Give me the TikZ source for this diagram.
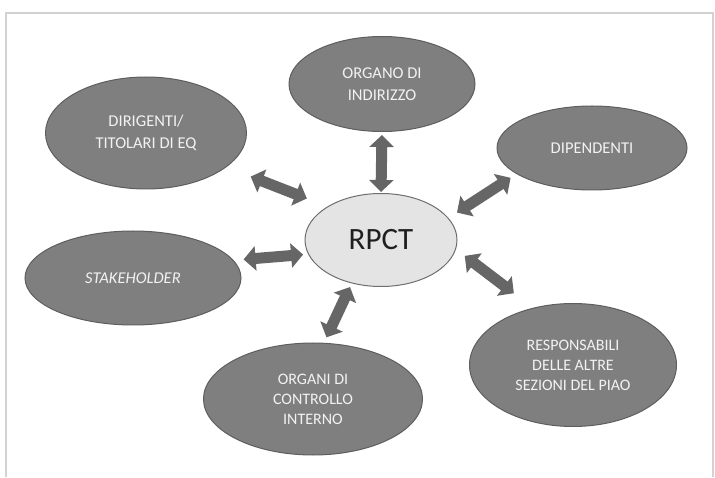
\documentclass[tikz,border=0pt]{standalone}
\usepackage{fontspec}
\setmainfont{Carlito}
\usetikzlibrary{shapes.geometric, arrows.meta}

\definecolor{bubblefill}{HTML}{7F7F7F}
\definecolor{bubbleline}{HTML}{5E5E5E}
\definecolor{bubbletext}{HTML}{F2F2F2}
\definecolor{corefill}{HTML}{E4E4E4}
\definecolor{coreline}{HTML}{6E6E6E}
\definecolor{linkgray}{HTML}{666666}

\begin{document}
\begin{tikzpicture}[x = 1pt, y = 1pt,
	bubble/.style = {ellipse, draw = bubbleline, fill = bubblefill, line width = 1pt, inner sep = 0pt, text = bubbletext, align = center, font = \fontsize{16.5}{22}\selectfont},
	core/.style = {ellipse, draw = coreline, fill = corefill, line width = 1pt, inner sep = 0pt, text = black!88, font = \fontsize{31}{36}\selectfont},
	link/.style = {draw = linkgray, line width = 11pt, {Triangle[width = 24pt, length = 12pt]}-{Triangle[width = 24pt, length = 12pt]}}]
	\useasboundingbox (0,0) rectangle (715,477);
	\draw[gray!35, line width = 1.2pt] (6,0) -- (6,464) -- (713,464) -- (713,0);

	\node[core, minimum width = 152pt, minimum height = 93pt] (rpct) at (381,237) {RPCT};
	\node[bubble, minimum width = 201pt, minimum height = 112pt] (dir) at (146,344) {DIRIGENTI/\\TITOLARI DI EQ};
	\node[bubble, minimum width = 186pt, minimum height = 95pt] (ind) at (382,393) {ORGANO DI\\INDIRIZZO};
	\node[bubble, minimum width = 190pt, minimum height = 84pt] (dip) at (592,329) {DIPENDENTI};
	\node[bubble, minimum width = 216pt, minimum height = 94pt] (stk) at (133,199) {\textit{STAKEHOLDER}};
	\node[bubble, minimum width = 219pt, minimum height = 112pt, font = \fontsize{16}{20}\selectfont] (oci) at (313,78) {ORGANI DI\\CONTROLLO\\INTERNO};
	\node[bubble, minimum width = 207pt, minimum height = 123pt, font = \fontsize{16}{20}\selectfont] (resp) at (573,112) {RESPONSABILI\\DELLE ALTRE\\SEZIONI DEL PIAO};

	\draw[link, shorten < = 26pt, shorten > = 22pt] (dir.-23) -- (rpct.148);
	\draw[link, shorten < = 3pt, shorten > = 1pt] (ind.south) -- (rpct.north);
	\draw[link, shorten < = 7pt, shorten > = 10pt] (dip.199) -- (rpct.18);
	\draw[link, shorten < = 10pt, shorten > = 5pt] (stk.10) -- (rpct.191);
	\draw[link, shorten < = 6pt, shorten > = 4pt] (oci.79) -- (rpct.236);
	\draw[link, shorten < = 24pt, shorten > = 11pt] (resp.125) -- (rpct.-7.5);
\end{tikzpicture}
\end{document}
